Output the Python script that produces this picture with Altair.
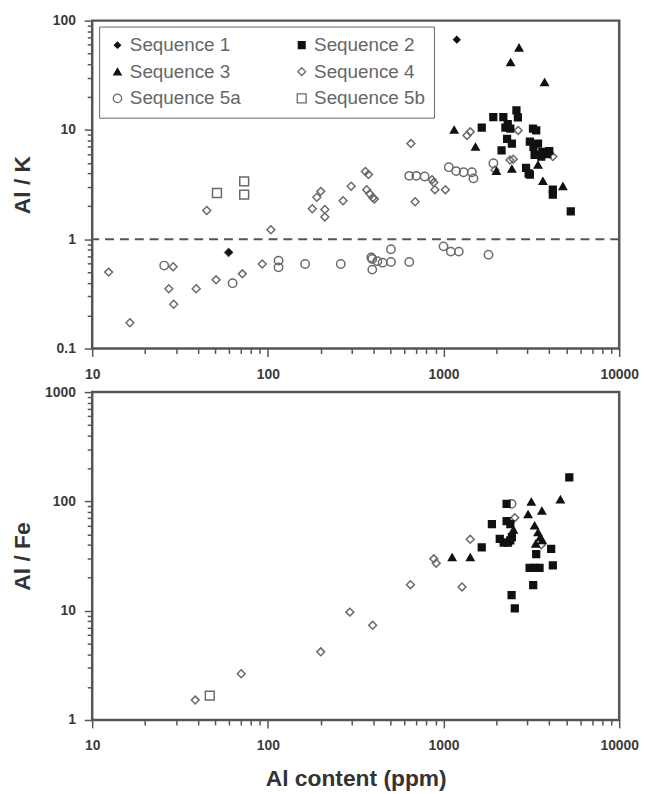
import altair as alt
import pandas as pd

SERIES = ["Sequence 1", "Sequence 2", "Sequence 3", "Sequence 4", "Sequence 5a", "Sequence 5b"]

# ---------------- Top panel: Al/K vs Al content ----------------
s1_top_x = [1190, 60]
s1_top_y = [67, 0.76]

s2_top_x = [1650, 1920, 2190, 2320, 2600, 2650, 2250, 2400, 2300, 2450, 2140, 3230, 3370,
            3100, 3250, 3450, 3650, 3900, 3300, 3600, 4000, 2950, 3050, 3100, 4190, 4190, 5300]
s2_top_y = [10.5, 13.1, 13.1, 11.3, 15.1, 13.0, 10.5, 10.3, 8.3, 7.5, 6.5, 10.3, 9.9,
            7.8, 7.0, 7.5, 6.3, 6.0, 5.9, 5.7, 6.4, 4.5, 4.0, 3.9, 2.84, 2.56, 1.8]

s3_top_x = [2690, 2410, 3760, 1150, 1520, 2000, 3450, 3680, 4780, 2450]
s3_top_y = [56.5, 41.5, 27.3, 10.0, 7.0, 4.2, 4.8, 3.4, 3.05, 4.4]

s4_top_x = [12.4, 16.4, 28.9, 27.3, 29.1, 39.1, 44.9, 50.7, 59.7, 71.6, 92.9, 104, 179, 190,
            200, 211, 211, 268, 298, 359, 374, 365, 380, 396, 404, 652, 689, 860, 880, 893,
            1025, 1360, 1420, 2660, 2388, 2494, 4190, 1963]
s4_top_y = [0.5, 0.172, 0.56, 0.352, 0.254, 0.352, 1.83, 0.425, 0.757, 0.482, 0.593, 1.22, 1.90, 2.42,
            2.74, 1.87, 1.60, 2.25, 3.05, 4.17, 3.9, 2.84, 2.6, 2.39, 2.33, 7.5, 2.2, 3.5, 3.3, 2.84,
            2.84, 8.9, 9.6, 9.9, 5.3, 5.4, 5.7, 4.3]

s5a_top_x = [25.7, 63, 115, 115, 163, 260, 393, 393, 388, 420, 450, 502, 502, 638, 1000, 1100,
             1222, 1803, 638, 700, 780, 1072, 1180, 1300, 1450, 1480, 1923]
s5a_top_y = [0.574, 0.396, 0.637, 0.553, 0.593, 0.593, 0.659, 0.527, 0.68, 0.63, 0.61, 0.62, 0.81,
             0.62, 0.86, 0.77, 0.77, 0.72, 3.8, 3.8, 3.75, 4.56, 4.2, 4.1, 4.1, 3.6, 4.95]

s5b_top_x = [51.3, 73.3, 73.3]
s5b_top_y = [2.65, 3.38, 2.56]

REF_LINE = 1

# ---------------- Bottom panel: Al/Fe vs Al content ----------------
s2_bot_x = [2285, 1885, 2285, 2400, 2450, 2400, 2090, 2200, 2330, 1650, 3370, 4100, 3090,
            3300, 3520, 4190, 3240, 2440, 2545, 5200]
s2_bot_y = [95, 62, 66, 62, 47, 44, 45.3, 42, 42, 38, 33, 36.7, 24.7,
            24.7, 24.7, 26, 17.1, 13.9, 10.5, 166]

s3_bot_x = [3160, 4625, 3630, 3030, 1120, 1420, 3300, 3450, 3550, 3650, 3350, 2500]
s3_bot_y = [99, 104, 82, 76, 30.8, 30.8, 60, 52, 47, 44, 41, 55]

s4_bot_x = [38.6, 70.5, 200, 293, 395, 648, 880, 908, 1274, 1419, 2545, 3600]
s4_bot_y = [1.52, 2.65, 4.2, 9.7, 7.35, 17.3, 29.8, 27.2, 16.5, 45, 71, 40]

s5a_bot_x = [2440]
s5a_bot_y = [95]

s5b_bot_x = [46.7]
s5b_bot_y = [1.67]

X_TICKS = [m * 10 ** e for e in (1, 2, 3) for m in range(1, 10)] + [10000]
Y_TOP_TICKS = [round(m * 10.0 ** e, 3) for e in (-1, 0, 1) for m in range(1, 10)] + [100]
Y_BOT_TICKS = [m * 10 ** e for e in (0, 1, 2) for m in range(1, 10)] + [1000]


def frame(pairs):
    rows = []
    for name, xs, ys in pairs:
        for x, y in zip(xs, ys):
            rows.append({"x": x, "y": y, "seq": name})
    return pd.DataFrame(rows)


df_top = frame([
    ("Sequence 4", s4_top_x, s4_top_y),
    ("Sequence 5a", s5a_top_x, s5a_top_y),
    ("Sequence 5b", s5b_top_x, s5b_top_y),
    ("Sequence 2", s2_top_x, s2_top_y),
    ("Sequence 3", s3_top_x, s3_top_y),
    ("Sequence 1", s1_top_x, s1_top_y),
])
df_bot = frame([
    ("Sequence 4", s4_bot_x, s4_bot_y),
    ("Sequence 5a", s5a_bot_x, s5a_bot_y),
    ("Sequence 5b", s5b_bot_x, s5b_bot_y),
    ("Sequence 2", s2_bot_x, s2_bot_y),
    ("Sequence 3", s3_bot_x, s3_bot_y),
])

SHAPES = ["diamond", "square", "triangle-up", "diamond", "circle", "square"]
FILLS = ["#111111", "#111111", "#111111", "transparent", "transparent", "transparent"]
STROKES = ["#111111", "#111111", "#111111", "#6a6a6a", "#6a6a6a", "#6a6a6a"]
SIZES = [38, 80, 55, 70, 80, 105]

FONT = "Liberation Sans"
MAJOR = "abs(log(datum.value)/LN10 - round(log(datum.value)/LN10)) < 0.001"
tick_size = {"condition": {"test": MAJOR, "value": 8}, "value": 5}
label_expr = MAJOR + " ? datum.label : ''"

W, H = 532, 331


def x_axis(title):
    kw = dict(values=X_TICKS, format="~g", labelExpr=label_expr, tickSize=tick_size,
              labelPadding=11, labelOverlap=False, labelFlush=False, grid=False,
              labelFontSize=14, labelFontWeight="bold", labelColor="#3a3a3a", labelFont=FONT,
              tickColor="#555", tickWidth=1.5, domain=False)
    if title:
        kw.update(title=title, titleFontSize=23, titleFontWeight="bold", titleFont=FONT,
                  titleColor="#333", titlePadding=15)
    else:
        kw.update(title=None)
    return alt.Axis(**kw)


def y_axis(title, ticks):
    return alt.Axis(values=ticks, format="~g", labelExpr=label_expr, tickSize=tick_size,
                    labelPadding=9, labelOverlap=False, labelFlush=False, grid=False,
                    labelFontSize=14, labelFontWeight="bold", labelColor="#3a3a3a", labelFont=FONT,
                    tickColor="#555", tickWidth=1.5, domain=False,
                    title=title, titleFontSize=23, titleFontWeight="bold", titleFont=FONT,
                    titleColor="#333", titlePadding=8, minExtent=50, maxExtent=50)


legend = alt.Legend(title=None, orient="none", legendX=7, legendY=6, columns=2,
                    direction="horizontal",
                    strokeColor="#666", padding=9, labelFontSize=19, labelColor="#666",
                    labelFont=FONT, columnPadding=52, rowPadding=7, symbolStrokeWidth=1.3,
                    fillColor="white", labelOffset=3)


def points(df, ytitle, ydomain, yticks, xtitle, show_legend):
    leg = legend if show_legend else None
    return alt.Chart(df).mark_point(filled=True, opacity=1, strokeWidth=1.5).encode(
        x=alt.X("x:Q", scale=alt.Scale(type="log", domain=[10, 10000], nice=False),
                axis=x_axis(xtitle)),
        y=alt.Y("y:Q", scale=alt.Scale(type="log", domain=ydomain, nice=False),
                axis=y_axis(ytitle, yticks)),
        shape=alt.Shape("seq:N", scale=alt.Scale(domain=SERIES, range=SHAPES), legend=leg),
        fill=alt.Fill("seq:N", scale=alt.Scale(domain=SERIES, range=FILLS), legend=leg),
        stroke=alt.Stroke("seq:N", scale=alt.Scale(domain=SERIES, range=STROKES), legend=leg),
        size=alt.Size("seq:N", scale=alt.Scale(domain=SERIES, range=SIZES), legend=leg),
    )


rule = alt.Chart(pd.DataFrame({"y": [REF_LINE]})).mark_rule(
    strokeDash=[9, 6], color="#555", strokeWidth=2).encode(y="y:Q")

top = alt.layer(
    rule,
    points(df_top, "Al / K", [0.1, 100], Y_TOP_TICKS, None, True),
).properties(width=W, height=H)

bottom = points(df_bot, "Al / Fe", [1, 1000], Y_BOT_TICKS, "Al content (ppm)", False).properties(
    width=W, height=H)

chart = alt.vconcat(top, bottom, spacing=0).properties(
    padding={"left": 2, "top": 0, "right": 0, "bottom": 0}
).configure_view(stroke="#555", strokeWidth=2.5)

chart.save("out.html", embed_options={"renderer": "svg", "actions": False})
